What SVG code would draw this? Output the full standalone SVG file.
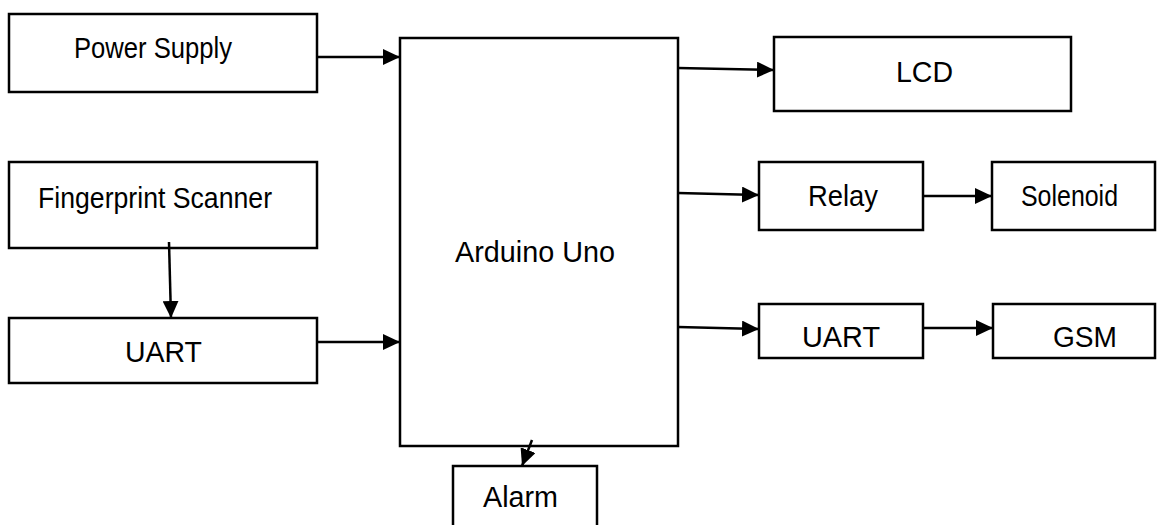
<svg xmlns="http://www.w3.org/2000/svg" width="1157" height="525" viewBox="0 0 1157 525">
<style>
.box{fill:#fff;stroke:#000;stroke-width:2.5}
.lbl{font-family:"Liberation Sans",Arial,sans-serif;font-size:30px;fill:#000}
.con{stroke:#000;stroke-width:2.5;fill:none;marker-end:url(#arr)}
</style>
<defs>
<marker id="arr" markerUnits="userSpaceOnUse" markerWidth="17" markerHeight="16" refX="17" refY="8" orient="auto">
<path d="M0,0 L17,8 L0,16 z" fill="#000"/>
</marker>
</defs>
<rect width="1157" height="525" fill="#fff"/>
<g id="power-supply"><rect class="box" x="9" y="14" width="308" height="78"/><text class="lbl" x="74" y="58" textLength="158" lengthAdjust="spacingAndGlyphs">Power Supply</text></g>
<g id="fingerprint-scanner"><rect class="box" x="9" y="162" width="308" height="86"/><text class="lbl" x="38" y="208" textLength="234" lengthAdjust="spacingAndGlyphs">Fingerprint Scanner</text></g>
<g id="uart-left"><rect class="box" x="9" y="318" width="308" height="65"/><text class="lbl" x="125" y="362" textLength="77" lengthAdjust="spacingAndGlyphs">UART</text></g>
<g id="arduino"><rect class="box" x="400" y="38" width="278" height="408"/><text class="lbl" x="455" y="262" font-size="28" textLength="160" lengthAdjust="spacingAndGlyphs">Arduino Uno</text></g>
<g id="lcd"><rect class="box" x="774" y="37" width="297" height="74"/><text class="lbl" x="896" y="82" textLength="57" lengthAdjust="spacingAndGlyphs">LCD</text></g>
<g id="relay"><rect class="box" x="759" y="162" width="164" height="68"/><text class="lbl" x="808" y="206" textLength="70" lengthAdjust="spacingAndGlyphs">Relay</text></g>
<g id="solenoid"><rect class="box" x="992" y="162" width="163" height="68"/><text class="lbl" x="1021" y="206" font-size="27" textLength="97" lengthAdjust="spacingAndGlyphs">Solenoid</text></g>
<g id="uart-right"><rect class="box" x="759" y="304" width="164" height="54"/><text class="lbl" x="802" y="347" textLength="78" lengthAdjust="spacingAndGlyphs">UART</text></g>
<g id="gsm"><rect class="box" x="993" y="304" width="162" height="54"/><text class="lbl" x="1053" y="347" textLength="64" lengthAdjust="spacingAndGlyphs">GSM</text></g>
<g id="alarm"><rect class="box" x="453" y="466" width="144" height="70"/><text class="lbl" x="483" y="507" textLength="75" lengthAdjust="spacingAndGlyphs">Alarm</text></g>
<g id="connectors">
<line class="con" x1="317" y1="57" x2="400" y2="57"/>
<line class="con" x1="169" y1="242" x2="171" y2="318"/>
<line class="con" x1="317" y1="342" x2="400" y2="342"/>
<line class="con" x1="678" y1="68" x2="774" y2="70"/>
<line class="con" x1="678" y1="193" x2="759" y2="195"/>
<line class="con" x1="923" y1="196" x2="992" y2="196"/>
<line class="con" x1="678" y1="327" x2="759" y2="329"/>
<line class="con" x1="923" y1="328" x2="993" y2="328"/>
<line class="con" x1="532" y1="440" x2="522" y2="466"/>
</g>
</svg>
